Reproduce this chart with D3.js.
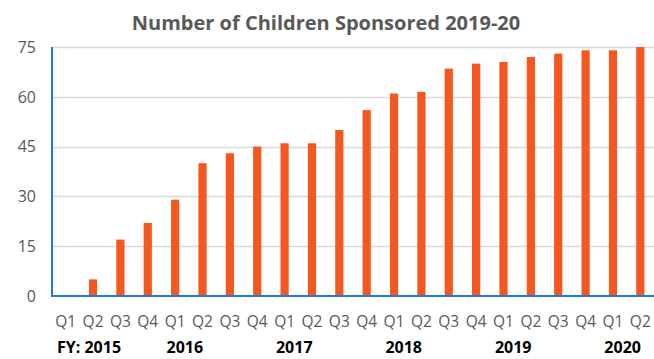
<!DOCTYPE html>
<html>
<head>
<meta charset="utf-8">
<script src="https://cdn.jsdelivr.net/npm/d3@7"></script>
<style>
  body { margin: 0; background: #fff; }
  svg { display: block; font-family: "Open Sans", sans-serif; }
</style>
</head>
<body>
<svg width="654" height="359"></svg>
<script>
var quarters = ["Q1","Q2","Q3","Q4","Q1","Q2","Q3","Q4","Q1","Q2","Q3","Q4",
                "Q1","Q2","Q3","Q4","Q1","Q2","Q3","Q4","Q1","Q2"];
var years = ["FY: 2015","2016","2017","2018","2019","2020"];
var children = [0,5,17,22,29,40,43,45,46,46,50,56,61,61.5,68.5,70,70.5,72,73,74,74,75];
var yTicks = [0,15,30,45,60,75];

var svg = d3.select("svg"),
width = +svg.attr("width"),
height = +svg.attr("height");

var margin = {top: 47, right: 0, bottom: 63, left: 52};

var x = d3.scaleBand()
  .domain(d3.range(quarters.length))
  .range([margin.left, width - margin.right])
  .paddingInner(0.7)
  .paddingOuter(0.35);

var y = d3.scaleLinear()
  .domain([0, 75])
  .range([height - margin.bottom, margin.top]);

// title
svg.append("text")
  .attr("x", 326)
  .attr("y", 30)
  .attr("text-anchor", "middle")
  .attr("fill", "#595959")
  .style("font-size", "20px")
  .style("font-weight", "bold")
  .text("Number of Children Sponsored 2019-20");

// gridlines
svg.append("g").selectAll("line")
  .data(yTicks.slice(1))
  .enter().append("line")
  .attr("x1", margin.left)
  .attr("x2", width - margin.right)
  .attr("y1", function(d){ return Math.round(y(d)) + 0.5; })
  .attr("y2", function(d){ return Math.round(y(d)) + 0.5; })
  .attr("stroke", "#d9d9d9")
  .attr("stroke-width", 1.5);

// y labels
svg.append("g").selectAll("text")
  .data(yTicks)
  .enter().append("text")
  .attr("x", 36)
  .attr("y", function(d){ return y(d); })
  .attr("dy", "0.36em")
  .attr("text-anchor", "end")
  .attr("fill", "#595959")
  .style("font-size", "16px")
  .text(function(d){ return d; });

// bars
svg.append("g").selectAll("rect")
  .data(children)
  .enter().append("rect")
  .attr("x", function(d, i){ return x(i); })
  .attr("width", x.bandwidth())
  .attr("y", function(d){ return y(d); })
  .attr("height", function(d){ return y(0) - y(d); })
  .attr("fill", "#f4581e");

// axes lines (blue)
svg.append("line")
  .attr("x1", margin.left).attr("x2", width)
  .attr("y1", y(0)).attr("y2", y(0))
  .attr("stroke", "#1f7bd1").attr("stroke-width", 2);
svg.append("line")
  .attr("x1", margin.left).attr("x2", margin.left)
  .attr("y1", y(75)).attr("y2", y(0) + 1)
  .attr("stroke", "#1f7bd1").attr("stroke-width", 2);

// quarter labels
svg.append("g").selectAll("text")
  .data(quarters)
  .enter().append("text")
  .attr("x", function(d, i){ return x(i) + x.bandwidth() / 2; })
  .attr("y", 327)
  .attr("text-anchor", "middle")
  .attr("fill", "#595959")
  .style("font-size", "15.5px")
  .text(function(d){ return d; });

// fiscal year labels, between Q1 and Q2 of each year
svg.append("g").selectAll("text")
  .data(years)
  .enter().append("text")
  .attr("x", function(d, i){
    if (i == 0) return 89;
    return x(i * 4) + x.bandwidth() / 2 + x.step() / 2 - 4;
  })
  .attr("y", 353)
  .attr("text-anchor", "middle")
  .attr("fill", "#000")
  .style("font-size", "16px")
  .style("font-weight", "bold")
  .text(function(d){ return d; });
</script>
</body>
</html>
